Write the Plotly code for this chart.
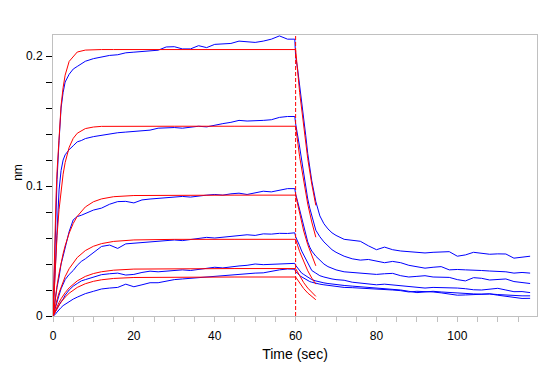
import plotly.graph_objects as go

# ---------------- data ----------------
# measured (blue) curves: association 0-60 s, dissociation 60-118 s
t_meas = [0, 0.5, 1, 1.5, 2, 2.5, 3, 4, 5, 6, 7, 8, 10, 12, 14, 16, 18, 20, 22, 24, 26, 28, 30,
          32, 34, 36, 38, 40, 42, 44, 46, 48, 50, 52, 54, 56, 58, 59.8,
          60, 60.5, 61, 61.5, 62, 62.5, 63, 63.5, 64, 65, 66, 67, 68, 69, 70, 72, 74, 76, 78, 80,
          82, 84, 86, 88, 90, 92, 94, 96, 98, 100, 102, 104, 106, 108, 110, 112, 114, 116, 118]

meas_1 = [0, 0.060, 0.105, 0.135, 0.160, 0.172, 0.180, 0.186, 0.190, 0.192, 0.194, 0.196, 0.198,
          0.1995, 0.2005, 0.201, 0.2025, 0.203, 0.2035, 0.2045, 0.2045, 0.207, 0.2072, 0.2055,
          0.2055, 0.208, 0.2065, 0.209, 0.2095, 0.2097, 0.2115, 0.211, 0.2105, 0.2115, 0.213,
          0.2155, 0.213, 0.213,
          0.200, 0.190, 0.178, 0.165, 0.150, 0.139, 0.125, 0.113, 0.104, 0.088, 0.077, 0.071,
          0.067, 0.064, 0.062, 0.059, 0.058, 0.0575, 0.054, 0.051, 0.053, 0.051, 0.050, 0.0495,
          0.049, 0.0485, 0.049, 0.049, 0.0495, 0.046, 0.047, 0.049, 0.048, 0.0475, 0.0478,
          0.0477, 0.0445, 0.0455, 0.046]

meas_2 = [0, 0.035, 0.070, 0.097, 0.112, 0.120, 0.124, 0.128, 0.131, 0.134, 0.135, 0.1365,
          0.138, 0.139, 0.1405, 0.141, 0.1415, 0.142, 0.1425, 0.143, 0.1445, 0.145, 0.145,
          0.1445, 0.1455, 0.146, 0.1455, 0.147, 0.148, 0.149, 0.1505, 0.150, 0.150, 0.1505,
          0.151, 0.1528, 0.1535, 0.1535,
          0.148, 0.140, 0.130, 0.120, 0.110, 0.099, 0.090, 0.083, 0.077, 0.066, 0.061, 0.057,
          0.054, 0.051, 0.049, 0.046, 0.044, 0.043, 0.0435, 0.042, 0.041, 0.042, 0.041, 0.039,
          0.038, 0.0368, 0.0375, 0.038, 0.0355, 0.0358, 0.0355, 0.0354, 0.035, 0.0346, 0.0345,
          0.034, 0.033, 0.0335, 0.033]

meas_3 = [0, 0.012, 0.022, 0.030, 0.040, 0.046, 0.053, 0.065, 0.074, 0.0765, 0.0775, 0.079,
          0.0815, 0.083, 0.086, 0.088, 0.0882, 0.087, 0.0893, 0.090, 0.0905, 0.0915, 0.0915,
          0.092, 0.0915, 0.0925, 0.093, 0.0935, 0.093, 0.094, 0.0945, 0.0935, 0.095, 0.096,
          0.0955, 0.0965, 0.098, 0.098,
          0.094, 0.088, 0.082, 0.075, 0.068, 0.063, 0.057, 0.053, 0.050, 0.046, 0.043, 0.040,
          0.038, 0.0365, 0.0355, 0.034, 0.0335, 0.033, 0.0325, 0.032, 0.0325, 0.0328, 0.031,
          0.030, 0.0305, 0.031, 0.030, 0.0298, 0.0297, 0.028, 0.027, 0.0295, 0.029, 0.0277,
          0.028, 0.0285, 0.0265, 0.026, 0.025]

meas_4 = [0, 0.006, 0.012, 0.016, 0.021, 0.025, 0.028, 0.032, 0.035, 0.039, 0.042, 0.044,
          0.049, 0.0535, 0.0546, 0.052, 0.0555, 0.056, 0.0565, 0.057, 0.057, 0.058, 0.0585,
          0.058, 0.059, 0.0595, 0.0605, 0.060, 0.0605, 0.061, 0.062, 0.0625, 0.062, 0.0632,
          0.063, 0.0636, 0.0635, 0.064,
          0.061, 0.058, 0.054, 0.050, 0.047, 0.043, 0.040, 0.037, 0.035, 0.033, 0.031, 0.030,
          0.029, 0.0285, 0.028, 0.0275, 0.026, 0.0255, 0.0245, 0.024, 0.0245, 0.024, 0.0235,
          0.023, 0.022, 0.0215, 0.022, 0.0218, 0.022, 0.0215, 0.021, 0.0202, 0.020, 0.0208,
          0.0213, 0.020, 0.0187, 0.0188, 0.018]

meas_5 = [0, 0.003, 0.006, 0.009, 0.011, 0.013, 0.016, 0.020, 0.023, 0.025, 0.027, 0.028,
          0.030, 0.0318, 0.0325, 0.033, 0.0315, 0.032, 0.0335, 0.0345, 0.034, 0.0345, 0.035,
          0.0355, 0.035, 0.036, 0.0368, 0.0375, 0.037, 0.038, 0.0385, 0.039, 0.040, 0.0395,
          0.0398, 0.0405, 0.0403, 0.0405,
          0.039, 0.037, 0.035, 0.033, 0.032, 0.031, 0.030, 0.029, 0.028, 0.027, 0.026, 0.0255,
          0.025, 0.0245, 0.024, 0.0235, 0.023, 0.0225, 0.022, 0.022, 0.0215, 0.021, 0.020,
          0.019, 0.018, 0.0185, 0.019, 0.0185, 0.018, 0.0175, 0.0172, 0.017, 0.0168, 0.017,
          0.0165, 0.016, 0.016, 0.0155, 0.0155]

meas_6 = [0, 0.001, 0.003, 0.005, 0.0065, 0.008, 0.009, 0.0115, 0.013, 0.0145, 0.0158, 0.0172,
          0.019, 0.0208, 0.0215, 0.022, 0.0245, 0.0225, 0.024, 0.0256, 0.0256, 0.027, 0.028,
          0.0285, 0.029, 0.030, 0.0305, 0.031, 0.0315, 0.032, 0.0325, 0.033, 0.033, 0.0332,
          0.0345, 0.0355, 0.0362, 0.036,
          0.034, 0.033, 0.031, 0.030, 0.029, 0.028, 0.027, 0.0265, 0.026, 0.025, 0.0245, 0.024,
          0.0235, 0.023, 0.0225, 0.022, 0.0218, 0.0215, 0.021, 0.021, 0.0205, 0.020, 0.0195,
          0.0185, 0.019, 0.0188, 0.0185, 0.0178, 0.017, 0.016, 0.0162, 0.0165, 0.0168, 0.017,
          0.016, 0.015, 0.0145, 0.0135, 0.0136]

# fitted (red) curves: association 0-60 s plus short dissociation 60-65 s
t_fit = [0, 0.25, 0.5, 0.75, 1, 1.5, 2, 2.5, 3, 4, 5, 6, 8, 10, 12, 15, 20, 30, 45, 60,
         61, 62, 63, 64, 65]

fit_1 = [0, 0.0363, 0.0662, 0.0908, 0.111, 0.1414, 0.162, 0.1758, 0.1853, 0.1959, 0.1999,
         0.2031, 0.2046, 0.205, 0.205, 0.205, 0.205, 0.205, 0.205, 0.205,
         0.172, 0.1441, 0.121, 0.1015, 0.0851]
fit_2 = [0, 0.0188, 0.0351, 0.0493, 0.0618, 0.0820, 0.0974, 0.1091, 0.1180, 0.1298, 0.1367,
         0.1406, 0.1442, 0.1454, 0.1459, 0.146, 0.146, 0.146, 0.146, 0.146,
         0.1225, 0.1026, 0.0861, 0.0723, 0.0606]
fit_3 = [0, 0.0065, 0.01255, 0.0182, 0.0234, 0.0328, 0.0409, 0.0480, 0.0540, 0.0638, 0.0712,
         0.0767, 0.0839, 0.0879, 0.0901, 0.0918, 0.0927, 0.093, 0.093, 0.093,
         0.078, 0.0654, 0.0549, 0.046, 0.0386]
fit_4 = [0, 0.00343, 0.00667, 0.00972, 0.01259, 0.01784, 0.02249, 0.02662, 0.03028, 0.03641,
         0.04123, 0.04502, 0.05035, 0.05365, 0.05569, 0.05739, 0.05852, 0.05896, 0.059, 0.059,
         0.0495, 0.0415, 0.0348, 0.0292, 0.0245]
fit_5 = [0, 0.0020, 0.00388, 0.00567, 0.00736, 0.01045, 0.01323, 0.0157, 0.01791, 0.02166,
         0.02465, 0.02704, 0.03047, 0.03265, 0.03405, 0.03525, 0.03609, 0.03646, 0.0365, 0.0365,
         0.0306, 0.0257, 0.0215, 0.0181, 0.0151]
fit_6 = [0, 0.00161, 0.00313, 0.00456, 0.00593, 0.00843, 0.01068, 0.01269, 0.01449, 0.01756,
         0.02001, 0.02199, 0.02484, 0.02668, 0.02786, 0.02889, 0.02963, 0.02996, 0.030, 0.030,
         0.0252, 0.0211, 0.0177, 0.0149, 0.0125]

dissociation_start = 60
x_ticks = [0, 20, 40, 60, 80, 100]
y_ticks = [0, 0.1, 0.2]
y_tick_text = ["0", "0.1", "0.2"]

# ---------------- figure ----------------
fig = go.Figure()
for ys in [meas_1, meas_2, meas_3, meas_4, meas_5, meas_6]:
    fig.add_trace(go.Scatter(x=t_meas, y=ys, mode="lines",
                             line=dict(color="#0000ff", width=1), showlegend=False,
                             hoverinfo="skip"))
for ys in [fit_1, fit_2, fit_3, fit_4, fit_5, fit_6]:
    fig.add_trace(go.Scatter(x=t_fit, y=ys, mode="lines",
                             line=dict(color="#ff0000", width=1), showlegend=False,
                             hoverinfo="skip"))

fig.add_vline(x=dissociation_start, line=dict(color="#ff0000", width=1, dash="4px,2px"))

frame = "#c0c0c0"
font = dict(family="Liberation Sans, Arial, sans-serif", size=12, color="#000000")

# y-axis title placed as a rotated annotation so it can sit close to the page edge
fig.add_annotation(text="nm", xref="paper", yref="paper", x=-0.072, y=0.51,
                   xanchor="center", yanchor="middle", textangle=-90, showarrow=False,
                   font=font)

# the page body adds an 8px offset, so the figure is sized 8px smaller
fig.update_layout(
    width=539, height=358,
    margin=dict(l=45, r=10, t=27, b=50, autoexpand=False),
    paper_bgcolor="white", plot_bgcolor="white",
    font=font,
    showlegend=False,
    xaxis=dict(range=[0, 119.7], tickvals=x_ticks, ticks="outside", ticklen=5,
               tickcolor=frame, showline=True, linecolor=frame, linewidth=1, mirror=True,
               showgrid=False, zeroline=False, automargin=False,
               minor=dict(dtick=5, ticks="outside", ticklen=5, tickcolor=frame, showgrid=False),
               title=dict(text="Time (sec)", standoff=6),
               ticklabelstandoff=4),
    yaxis=dict(range=[0, 0.2162], tickvals=y_ticks, ticktext=y_tick_text, ticks="outside",
               ticklen=6, tickcolor="#000000", showline=True, linecolor=frame, linewidth=1,
               mirror=True, showgrid=False, zeroline=False, automargin=False,
               minor=dict(dtick=0.02, ticks="outside", ticklen=6, tickcolor="#000000",
                          showgrid=False),
               ticklabelstandoff=1),
)

fig.write_html("out.html")
